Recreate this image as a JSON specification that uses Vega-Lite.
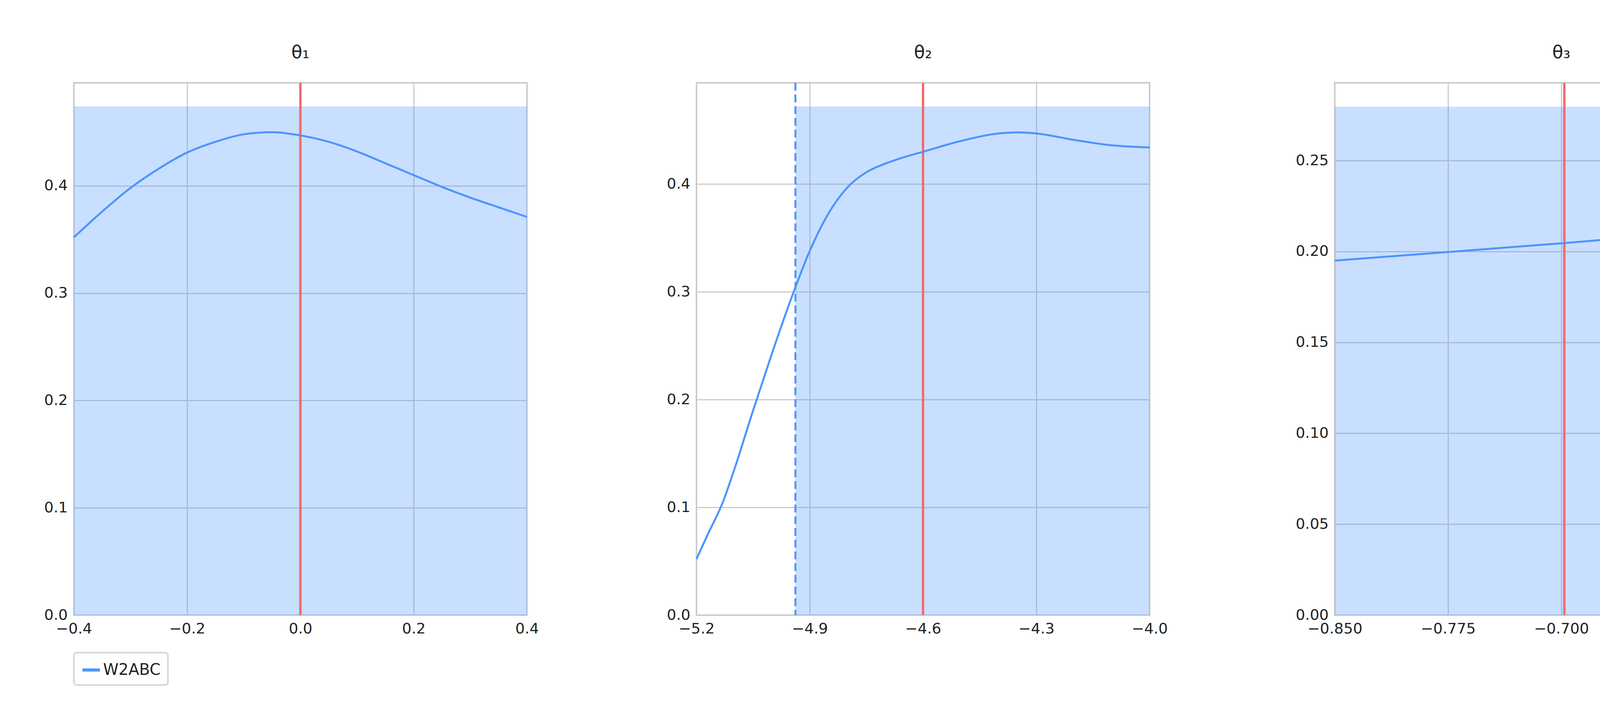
{
  "$schema": "https://vega.github.io/schema/vega-lite/v6.json",
  "background": "white",
  "padding": {"left": 110, "top": 110, "right": 20, "bottom": 20},
  "spacing": 322,
  "datasets": {
    "curves": [
      {"panel": 1, "method": "W2ABC", "x": -0.4, "y": 0.352}, {"panel": 1, "method": "W2ABC", "x": -0.35, "y": 0.376}, {"panel": 1, "method": "W2ABC", "x": -0.3, "y": 0.398}, {"panel": 1, "method": "W2ABC", "x": -0.25, "y": 0.416}, {"panel": 1, "method": "W2ABC", "x": -0.2, "y": 0.431}, {"panel": 1, "method": "W2ABC", "x": -0.15, "y": 0.441}, {"panel": 1, "method": "W2ABC", "x": -0.1, "y": 0.448}, {"panel": 1, "method": "W2ABC", "x": -0.05, "y": 0.450}, {"panel": 1, "method": "W2ABC", "x": 0.0, "y": 0.447}, {"panel": 1, "method": "W2ABC", "x": 0.05, "y": 0.441}, {"panel": 1, "method": "W2ABC", "x": 0.1, "y": 0.432}, {"panel": 1, "method": "W2ABC", "x": 0.15, "y": 0.421}, {"panel": 1, "method": "W2ABC", "x": 0.2, "y": 0.410}, {"panel": 1, "method": "W2ABC", "x": 0.25, "y": 0.399}, {"panel": 1, "method": "W2ABC", "x": 0.3, "y": 0.389}, {"panel": 1, "method": "W2ABC", "x": 0.35, "y": 0.380}, {"panel": 1, "method": "W2ABC", "x": 0.4, "y": 0.371},
      {"panel": 2, "method": "W2ABC", "x": -5.2, "y": 0.052}, {"panel": 2, "method": "W2ABC", "x": -5.17, "y": 0.075}, {"panel": 2, "method": "W2ABC", "x": -5.13, "y": 0.105}, {"panel": 2, "method": "W2ABC", "x": -5.1, "y": 0.135}, {"panel": 2, "method": "W2ABC", "x": -5.05, "y": 0.19}, {"panel": 2, "method": "W2ABC", "x": -5.0, "y": 0.243}, {"panel": 2, "method": "W2ABC", "x": -4.95, "y": 0.293}, {"panel": 2, "method": "W2ABC", "x": -4.9, "y": 0.338}, {"panel": 2, "method": "W2ABC", "x": -4.85, "y": 0.373}, {"panel": 2, "method": "W2ABC", "x": -4.8, "y": 0.397}, {"panel": 2, "method": "W2ABC", "x": -4.75, "y": 0.411}, {"panel": 2, "method": "W2ABC", "x": -4.7, "y": 0.419}, {"panel": 2, "method": "W2ABC", "x": -4.65, "y": 0.425}, {"panel": 2, "method": "W2ABC", "x": -4.6, "y": 0.430}, {"panel": 2, "method": "W2ABC", "x": -4.5, "y": 0.440}, {"panel": 2, "method": "W2ABC", "x": -4.4, "y": 0.447}, {"panel": 2, "method": "W2ABC", "x": -4.35, "y": 0.448}, {"panel": 2, "method": "W2ABC", "x": -4.3, "y": 0.447}, {"panel": 2, "method": "W2ABC", "x": -4.2, "y": 0.441}, {"panel": 2, "method": "W2ABC", "x": -4.1, "y": 0.436}, {"panel": 2, "method": "W2ABC", "x": -4.0, "y": 0.434},
      {"panel": 3, "method": "W2ABC", "x": -0.85, "y": 0.195}, {"panel": 3, "method": "W2ABC", "x": -0.7, "y": 0.2045}, {"panel": 3, "method": "W2ABC", "x": -0.55, "y": 0.215},
      {"panel": 4, "method": "W2ABC", "x": -5.2, "y": 0.065}, {"panel": 4, "method": "W2ABC", "x": -5.15, "y": 0.078}, {"panel": 4, "method": "W2ABC", "x": -5.1, "y": 0.093}, {"panel": 4, "method": "W2ABC", "x": -5.05, "y": 0.108}, {"panel": 4, "method": "W2ABC", "x": -5.0, "y": 0.124}, {"panel": 4, "method": "W2ABC", "x": -4.95, "y": 0.139}, {"panel": 4, "method": "W2ABC", "x": -4.9, "y": 0.153}, {"panel": 4, "method": "W2ABC", "x": -4.85, "y": 0.166}, {"panel": 4, "method": "W2ABC", "x": -4.8, "y": 0.179}, {"panel": 4, "method": "W2ABC", "x": -4.75, "y": 0.190}, {"panel": 4, "method": "W2ABC", "x": -4.7, "y": 0.199}, {"panel": 4, "method": "W2ABC", "x": -4.65, "y": 0.206}, {"panel": 4, "method": "W2ABC", "x": -4.6, "y": 0.211}, {"panel": 4, "method": "W2ABC", "x": -4.5, "y": 0.218}, {"panel": 4, "method": "W2ABC", "x": -4.4, "y": 0.221}, {"panel": 4, "method": "W2ABC", "x": -4.3, "y": 0.222}, {"panel": 4, "method": "W2ABC", "x": -4.2, "y": 0.221}, {"panel": 4, "method": "W2ABC", "x": -4.1, "y": 0.220}, {"panel": 4, "method": "W2ABC", "x": -4.0, "y": 0.220}
    ],
    "bands": [
      {"panel": 1, "x0": -0.4, "x1": 0.4, "bottom": 0, "top": 0.474},
      {"panel": 2, "x0": -4.938, "x1": -4.0, "bottom": 0, "top": 0.472},
      {"panel": 3, "x0": -0.85, "x1": -0.55, "bottom": 0, "top": 0.2796},
      {"panel": 4, "x0": -4.912, "x1": -4.0, "bottom": 0, "top": 0.2329}
    ],
    "truth": [
      {"panel": 1, "x": 0.0}, {"panel": 2, "x": -4.6}, {"panel": 3, "x": -0.698}, {"panel": 4, "x": -4.6}
    ],
    "dashed": [
      {"panel": 2, "x": -4.938}, {"panel": 4, "x": -4.912}
    ]
  },
  "hconcat": [
    {
      "title": "θ₁", "width": 1160, "height": 1363,
      "layer": [
        {"data": {"name": "bands"}, "transform": [{"filter": "datum.panel == 1"}], "mark": {"type": "rect", "color": "#4c94ff", "opacity": 0.3},
         "encoding": {"x": {"field": "x0", "type": "quantitative", "scale": {"domain": [-0.4, 0.4], "nice": false}, "axis": {"values": [-0.4, -0.2, 0, 0.2, 0.4], "format": ".1f"}, "title": null}, "x2": {"field": "x1"}, "y": {"field": "bottom", "type": "quantitative", "scale": {"domain": [0, 0.496], "nice": false}, "axis": {"values": [0, 0.1, 0.2, 0.3, 0.4], "format": ".1f"}, "title": null}, "y2": {"field": "top"}}},
        {"data": {"name": "truth"}, "transform": [{"filter": "datum.panel == 1"}], "mark": {"type": "rule", "color": "#f36a6a", "strokeWidth": 6}, "encoding": {"x": {"field": "x", "type": "quantitative"}}},
        {"data": {"name": "curves"}, "transform": [{"filter": "datum.panel == 1"}], "mark": {"type": "line", "strokeWidth": 5, "interpolate": "monotone"},
         "encoding": {"x": {"field": "x", "type": "quantitative"}, "y": {"field": "y", "type": "quantitative"}, "color": {"field": "method", "type": "nominal", "scale": {"range": ["#4c94ff"]}, "title": null}}}
      ]
    },
    {
      "title": "θ₂", "width": 1160, "height": 1363,
      "layer": [
        {"data": {"name": "bands"}, "transform": [{"filter": "datum.panel == 2"}], "mark": {"type": "rect", "color": "#4c94ff", "opacity": 0.3},
         "encoding": {"x": {"field": "x0", "type": "quantitative", "scale": {"domain": [-5.2, -4.0], "nice": false}, "axis": {"values": [-5.2, -4.9, -4.6, -4.3, -4.0], "format": ".1f"}, "title": null}, "x2": {"field": "x1"}, "y": {"field": "bottom", "type": "quantitative", "scale": {"domain": [0, 0.494], "nice": false}, "axis": {"values": [0, 0.1, 0.2, 0.3, 0.4], "format": ".1f"}, "title": null}, "y2": {"field": "top"}}},
        {"data": {"name": "dashed"}, "transform": [{"filter": "datum.panel == 2"}], "mark": {"type": "rule", "color": "#4c94ff", "strokeWidth": 5, "strokeDash": [20, 10]}, "encoding": {"x": {"field": "x", "type": "quantitative"}}},
        {"data": {"name": "truth"}, "transform": [{"filter": "datum.panel == 2"}], "mark": {"type": "rule", "color": "#f36a6a", "strokeWidth": 6}, "encoding": {"x": {"field": "x", "type": "quantitative"}}},
        {"data": {"name": "curves"}, "transform": [{"filter": "datum.panel == 2"}], "mark": {"type": "line", "strokeWidth": 5, "interpolate": "monotone"},
         "encoding": {"x": {"field": "x", "type": "quantitative"}, "y": {"field": "y", "type": "quantitative"}, "color": {"field": "method", "type": "nominal", "scale": {"range": ["#4c94ff"]}, "title": null}}}
      ]
    },
    {
      "title": "θ₃", "width": 1160, "height": 1363,
      "layer": [
        {"data": {"name": "bands"}, "transform": [{"filter": "datum.panel == 3"}], "mark": {"type": "rect", "color": "#4c94ff", "opacity": 0.3},
         "encoding": {"x": {"field": "x0", "type": "quantitative", "scale": {"domain": [-0.85, -0.55], "nice": false}, "axis": {"values": [-0.85, -0.775, -0.7, -0.625, -0.55], "format": ".3f"}, "title": null}, "x2": {"field": "x1"}, "y": {"field": "bottom", "type": "quantitative", "scale": {"domain": [0, 0.2928], "nice": false}, "axis": {"values": [0, 0.05, 0.1, 0.15, 0.2, 0.25], "format": ".2f"}, "title": null}, "y2": {"field": "top"}}},
        {"data": {"name": "truth"}, "transform": [{"filter": "datum.panel == 3"}], "mark": {"type": "rule", "color": "#f36a6a", "strokeWidth": 6}, "encoding": {"x": {"field": "x", "type": "quantitative"}}},
        {"data": {"name": "curves"}, "transform": [{"filter": "datum.panel == 3"}], "mark": {"type": "line", "strokeWidth": 5},
         "encoding": {"x": {"field": "x", "type": "quantitative"}, "y": {"field": "y", "type": "quantitative"}, "color": {"field": "method", "type": "nominal", "scale": {"range": ["#4c94ff"]}, "title": null}}}
      ]
    },
    {
      "title": "θ₄", "width": 1160, "height": 1363,
      "layer": [
        {"data": {"name": "bands"}, "transform": [{"filter": "datum.panel == 4"}], "mark": {"type": "rect", "color": "#4c94ff", "opacity": 0.3},
         "encoding": {"x": {"field": "x0", "type": "quantitative", "scale": {"domain": [-5.2, -4.0], "nice": false}, "axis": {"values": [-5.2, -4.9, -4.6, -4.3, -4.0], "format": ".1f"}, "title": null}, "x2": {"field": "x1"}, "y": {"field": "bottom", "type": "quantitative", "scale": {"domain": [0, 0.2438], "nice": false}, "axis": {"values": [0, 0.05, 0.1, 0.15, 0.2], "format": ".2f"}, "title": null}, "y2": {"field": "top"}}},
        {"data": {"name": "dashed"}, "transform": [{"filter": "datum.panel == 4"}], "mark": {"type": "rule", "color": "#4c94ff", "strokeWidth": 5, "strokeDash": [20, 10]}, "encoding": {"x": {"field": "x", "type": "quantitative"}}},
        {"data": {"name": "truth"}, "transform": [{"filter": "datum.panel == 4"}], "mark": {"type": "rule", "color": "#f36a6a", "strokeWidth": 6}, "encoding": {"x": {"field": "x", "type": "quantitative"}}},
        {"data": {"name": "curves"}, "transform": [{"filter": "datum.panel == 4"}], "mark": {"type": "line", "strokeWidth": 5, "interpolate": "monotone"},
         "encoding": {"x": {"field": "x", "type": "quantitative"}, "y": {"field": "y", "type": "quantitative"}, "color": {"field": "method", "type": "nominal", "scale": {"range": ["#4c94ff"]}, "title": null}}}
      ]
    }
  ],
  "config": {
    "font": "DejaVu Sans",
    "view": {"stroke": "#cccccc", "strokeWidth": 4},
    "title": {"fontSize": 46, "fontWeight": "normal", "color": "#222222", "offset": 50},
    "axis": {"domain": false, "ticks": false, "labelFontSize": 38, "labelColor": "#222222", "labelPadding": 16, "gridColor": "#cccccc", "gridWidth": 3, "labelFlush": false},
    "legend": {"orient": "bottom", "symbolType": "stroke", "symbolStrokeWidth": 8, "symbolSize": 2000, "labelFontSize": 40, "labelColor": "#222222", "strokeColor": "#d6d6d6", "strokeWidth": 4, "cornerRadius": 8, "padding": 18, "offset": 40}
  }
}
